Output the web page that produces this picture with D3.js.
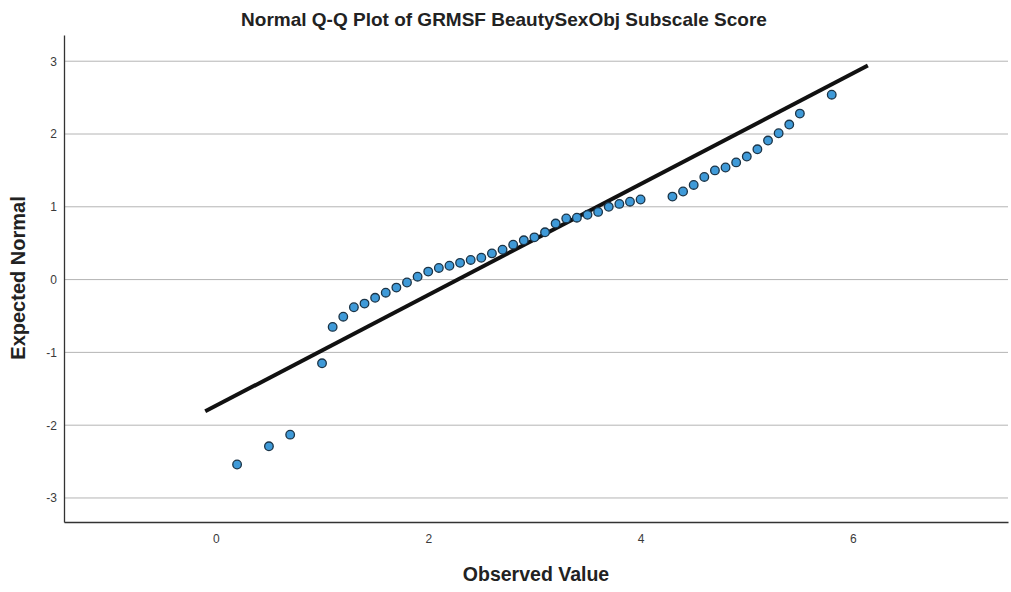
<!DOCTYPE html>
<html><head><meta charset="utf-8">
<script src="https://cdn.jsdelivr.net/npm/d3@7"></script>
<style>body{margin:0;background:#fff;font-family:"Liberation Sans",Arial,sans-serif;}</style>
</head><body>
<svg id="c" width="1011" height="592"></svg>
<script>
const observed = [0.2,0.5,0.7,1.0,1.1,1.2,1.3,1.4,1.5,1.6,1.7,1.8,1.9,2.0,2.1,2.2,2.3,2.4,2.5,2.6,2.7,2.8,2.9,3.0,3.1,3.2,3.3,3.4,3.5,3.6,3.7,3.8,3.9,4.0,4.3,4.4,4.5,4.6,4.7,4.8,4.9,5.0,5.1,5.2,5.3,5.4,5.5,5.8];
const expected = [-2.54,-2.29,-2.13,-1.15,-0.65,-0.51,-0.38,-0.33,-0.25,-0.18,-0.11,-0.04,0.04,0.11,0.16,0.19,0.23,0.27,0.30,0.36,0.41,0.48,0.54,0.58,0.65,0.77,0.84,0.85,0.89,0.93,1.0,1.04,1.07,1.10,1.14,1.21,1.30,1.41,1.50,1.54,1.61,1.69,1.79,1.91,2.01,2.13,2.28,2.54];
const lineX = [-0.1, 6.14];
const lineY = [-1.81, 2.94];
const xTicks = [0,2,4,6];
const yTicks = [-3,-2,-1,0,1,2,3];
const title = "Normal Q-Q Plot of GRMSF BeautySexObj Subscale Score";
const xLabel = "Observed Value";
const yLabel = "Expected Normal";

const L=64, R=1008, T=35, B=522;
const x = d3.scaleLinear().domain([-1.43,7.46]).range([L,R]);
const y = d3.scaleLinear().domain([-3.33,3.36]).range([B,T]);
const svg = d3.select("#c");

// gridlines
svg.append("g").selectAll("line").data(yTicks).join("line")
  .attr("x1",L).attr("x2",R).attr("y1",d=>y(d)).attr("y2",d=>y(d))
  .attr("stroke","#b4b4b4").attr("stroke-width",1);

// axes
const fmt = d => String(d);
const xa = svg.append("g").attr("transform",`translate(0,${B})`)
  .call(d3.axisBottom(x).tickValues(xTicks).tickSize(0).tickPadding(12).tickFormat(fmt));
const ya = svg.append("g").attr("transform",`translate(${L},0)`)
  .call(d3.axisLeft(y).tickValues(yTicks).tickSize(0).tickPadding(7).tickFormat(fmt));
[xa,ya].forEach(a=>{
  a.select(".domain").attr("stroke","#333").attr("stroke-width",1.3);
  a.selectAll("text").attr("font-family","'Liberation Sans',Arial,sans-serif").attr("font-size",12).attr("fill","#3a3a3a");
});

// reference line
svg.append("line")
  .attr("x1",x(lineX[0])).attr("y1",y(lineY[0])).attr("x2",x(lineX[1])).attr("y2",y(lineY[1]))
  .attr("stroke","#111").attr("stroke-width",4);

// points
svg.append("g").selectAll("circle").data(observed.map((v,i)=>[v,expected[i]])).join("circle")
  .attr("cx",d=>x(d[0])).attr("cy",d=>y(d[1])).attr("r",4.3)
  .attr("fill","#3f9ad8").attr("stroke","#1b3447").attr("stroke-width",1.3);

// texts
svg.append("text").attr("x",504).attr("y",26).attr("text-anchor","middle")
  .attr("font-size",19).attr("font-weight","bold").attr("fill","#222").text(title);
svg.append("text").attr("x",536).attr("y",581).attr("text-anchor","middle")
  .attr("font-size",19.5).attr("font-weight","bold").attr("fill","#222").text(xLabel);
svg.append("text").attr("transform","translate(25,278) rotate(-90)").attr("text-anchor","middle")
  .attr("font-size",20).attr("font-weight","bold").attr("fill","#222").text(yLabel);
</script>
</body></html>
